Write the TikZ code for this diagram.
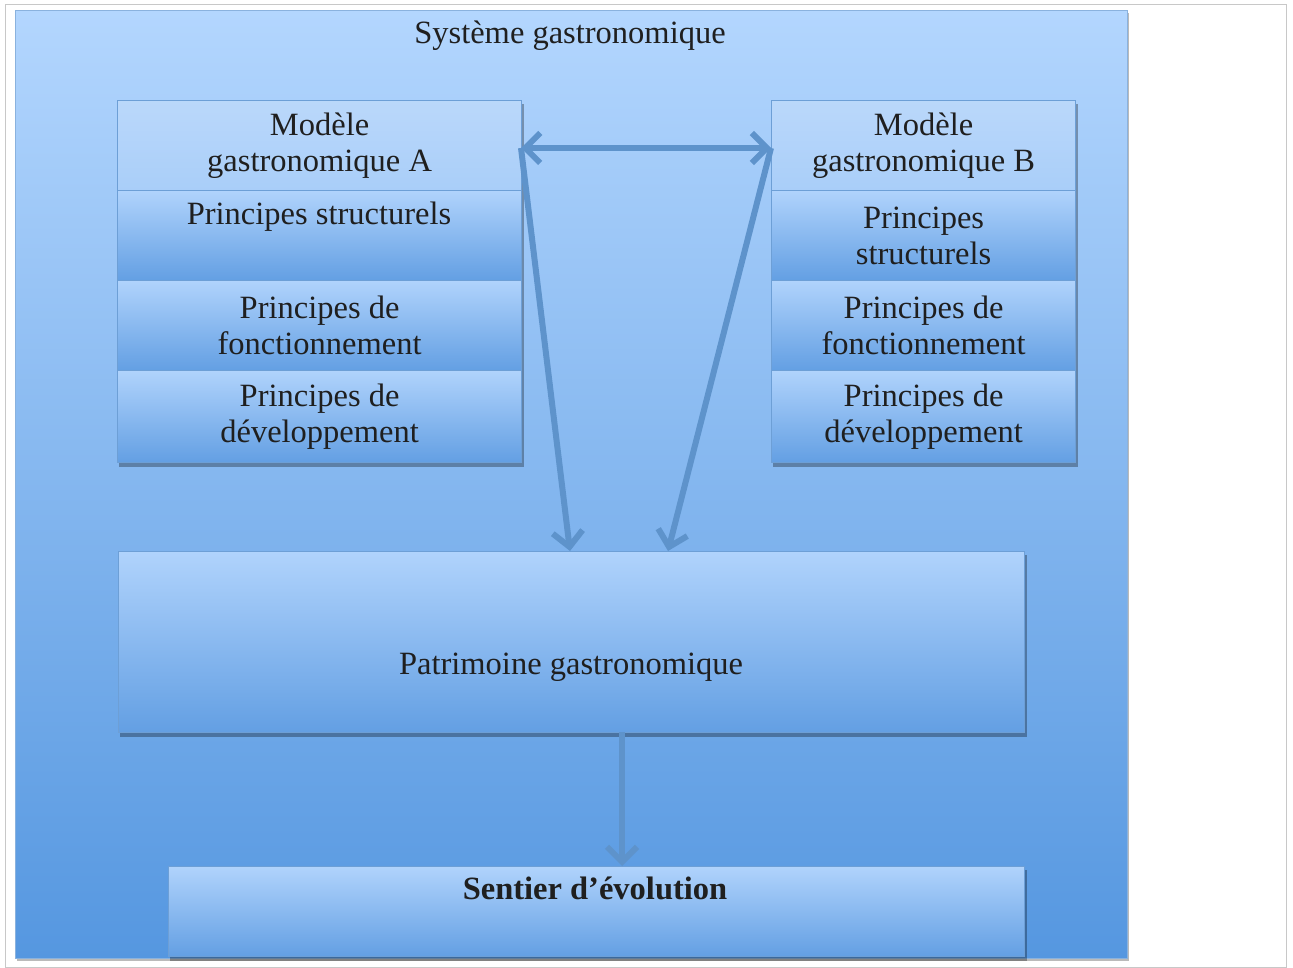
\documentclass[tikz,border=0pt]{standalone}
\usepackage{fontspec}
\setmainfont{Liberation Serif}
\usetikzlibrary{arrows.meta,shadows}
\definecolor{bgtop}{HTML}{B3D6FE}
\definecolor{bgbot}{HTML}{5597E0}
\definecolor{rowtop}{HTML}{B0D3FC}
\definecolor{rowbot}{HTML}{639FE3}
\definecolor{hdr}{HTML}{A9CEF9}
\definecolor{edge}{HTML}{6D9FD6}
\definecolor{arr}{HTML}{5E93CB}
\definecolor{framec}{HTML}{C8C8C8}
\tikzset{
  txt/.style={font=\fontsize{32.5}{36}\selectfont, text=black!88, align=center},
  hdrbox/.style={txt, draw=edge, line width=1.2pt, top color=hdr!80!white, bottom color=hdr, inner sep=0pt, anchor=north west},
  rowbox/.style={txt, draw=edge, line width=1.2pt, top color=rowtop, bottom color=rowbot, inner sep=0pt, anchor=north west},
  shad/.style={drop shadow={shadow xshift=1.5pt, shadow yshift=-3pt, opacity=0.45, fill=black!60}},
  tip/.style={Straight Barb[length=15pt,width=30pt,line width=6pt]},
  link/.style={draw=arr, line width=6pt, -{Straight Barb[length=15pt,width=30pt,line width=6pt]}},
  dlink/.style={draw=arr, line width=6pt, {Straight Barb[length=15pt,width=30pt,line width=6pt]}-{Straight Barb[length=15pt,width=30pt,line width=6pt]}},
  boxshadow/.style={fill=black, opacity=0.3}
}
\begin{document}
\begin{tikzpicture}[x=1pt,y=-1pt]
\useasboundingbox (0,0) rectangle (1293,968);
\draw[framec, line width=1pt] (5,5) rectangle (1286,967);
% big system box
\node[shad, draw=edge!80, line width=0.8pt, top color=bgtop, bottom color=bgbot, minimum width=1112pt, minimum height=948pt, inner sep=0pt, anchor=north west] (sys) at (15,10) {};
\node[txt, anchor=base] (title) at (570,44) {Système gastronomique};
% Box A
\fill[boxshadow] (119,104) rectangle (524,467);
\node[hdrbox, minimum width=404pt, minimum height=90pt] (ha) at (117,100) {Modèle\\gastronomique A};
\node[rowbox, minimum width=404pt, minimum height=90pt] (sa) at (117,190) {};
\node[txt, anchor=base] (sat) at (319,225) {Principes structurels};
\node[rowbox, minimum width=404pt, minimum height=90pt] (fa) at (117,280) {Principes de\\fonctionnement};
\node[rowbox, minimum width=404pt, minimum height=92pt] (da) at (117,370) {Principes de\\développement};
% Box B
\fill[boxshadow] (773,104) rectangle (1078,467);
\node[hdrbox, minimum width=304pt, minimum height=90pt] (hb) at (771,100) {Modèle\\gastronomique B};
\node[rowbox, minimum width=304pt, minimum height=90pt] (sb) at (771,190) {Principes\\structurels};
\node[rowbox, minimum width=304pt, minimum height=90pt] (fb) at (771,280) {Principes de\\fonctionnement};
\node[rowbox, minimum width=304pt, minimum height=92pt] (db) at (771,370) {Principes de\\développement};
% Patrimoine
\fill[boxshadow] (120,555) rectangle (1027,737);
\node[rowbox, minimum width=906pt, minimum height=181pt] (pat) at (118,551) {};
\node[txt, anchor=base] (patt) at (571,674) {Patrimoine gastronomique};
% Sentier
\fill[boxshadow] (170,870) rectangle (1027,961);
\node[rowbox, minimum width=856pt, minimum height=90pt] (sen) at (168,866) {};
\node[txt, anchor=base, font=\fontsize{32.5}{36}\selectfont\bfseries] (sent) at (595,899) {Sentier d’évolution};
% connectors
\coordinate (ea) at (521,148);
\coordinate (eb) at (771,148);
\coordinate (pa) at (570,551);
\coordinate (pb) at (668,551);
\coordinate (ps) at (622,732);
\coordinate (sn) at (622,866);
\draw[dlink] (ea) -- (eb);
\draw[link] (ea) -- (pa);
\draw[link] (eb) -- (pb);
\draw[link] (ps) -- (sn);
\end{tikzpicture}
\end{document}
